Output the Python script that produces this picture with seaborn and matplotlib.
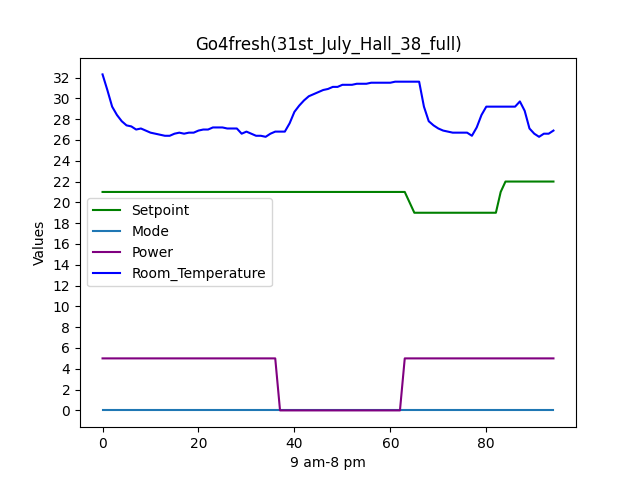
import matplotlib
matplotlib.use("Agg")
import matplotlib.pyplot as plt
import seaborn as sns
import pandas as pd

# values, one per time step
room_temp = [32.3, 30.8, 29.2, 28.4, 27.8, 27.4, 27.3, 27.0, 27.1, 26.9,
             26.7, 26.6, 26.5, 26.4, 26.4, 26.6, 26.7, 26.6, 26.7, 26.7,
             26.9, 27.0, 27.0, 27.2, 27.2, 27.2, 27.1, 27.1, 27.1, 26.6,
             26.8, 26.6, 26.4, 26.4, 26.3, 26.6, 26.8, 26.8, 26.8, 27.6,
             28.7, 29.3, 29.8, 30.2, 30.4, 30.6, 30.8, 30.9, 31.1, 31.1,
             31.3, 31.3, 31.3, 31.4, 31.4, 31.4, 31.5, 31.5, 31.5, 31.5,
             31.5, 31.6, 31.6, 31.6, 31.6, 31.6, 31.6, 29.2, 27.8, 27.4,
             27.1, 26.9, 26.8, 26.7, 26.7, 26.7, 26.7, 26.4, 27.2, 28.4,
             29.2, 29.2, 29.2, 29.2, 29.2, 29.2, 29.2, 29.7, 28.8, 27.1,
             26.6, 26.3, 26.6, 26.6, 26.9]
setpoint = [21] * 64 + [20] + [19] * 18 + [21] + [22] * 11
mode = [0] * 95
power = [5] * 37 + [0] * 26 + [5] * 32

df = pd.DataFrame({"Setpoint": setpoint, "Mode": mode, "Power": power,
                   "Room_Temperature": room_temp})
colors = {"Setpoint": "green", "Mode": "#1f77b4", "Power": "purple",
          "Room_Temperature": "blue"}

fig, ax = plt.subplots(figsize=(6.4, 4.8), dpi=100)
for col in df.columns:
    sns.lineplot(x=df.index, y=df[col], ax=ax, color=colors[col], label=col)

ax.set_yticks(range(0, 33, 2))
ax.set_xlabel("9 am-8 pm")
ax.set_ylabel("Values")
ax.set_title("Go4fresh(31st_July_Hall_38_full)")
ax.legend(loc="center left", bbox_to_anchor=(0.0, 0.5))
plt.savefig("out.png")
